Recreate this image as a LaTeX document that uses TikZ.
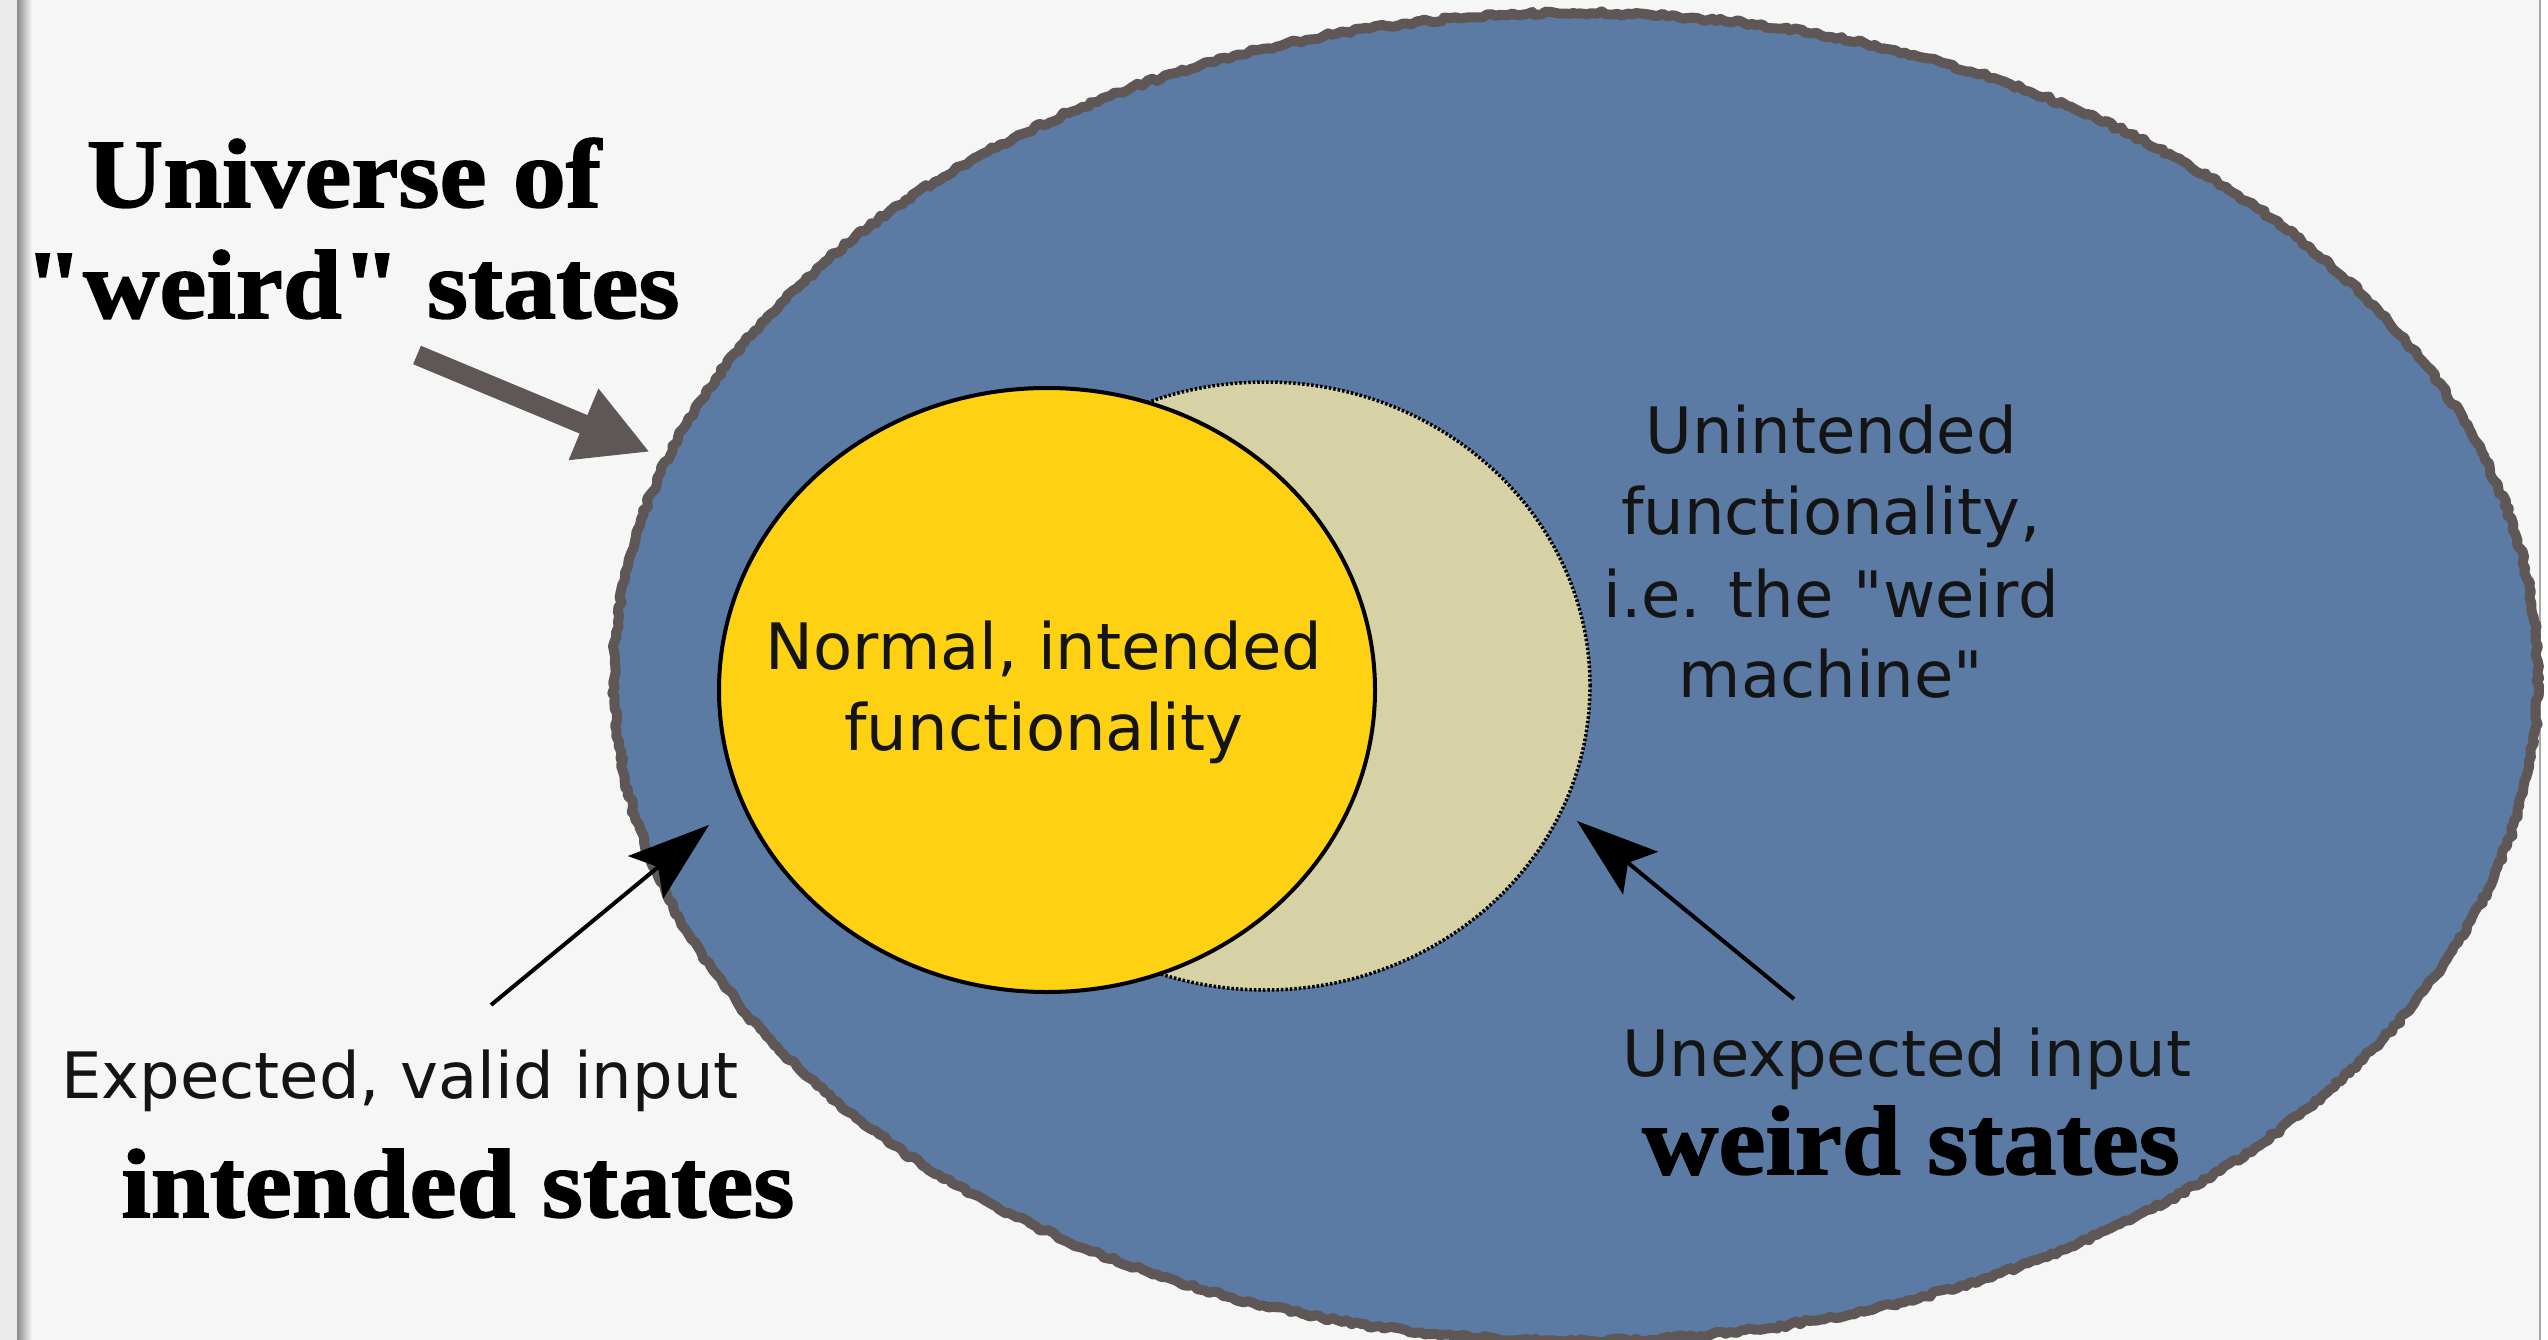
\documentclass[tikz,border=0pt]{standalone}
\usepackage{fontspec}
\usetikzlibrary{arrows.meta,decorations.pathmorphing,shapes.geometric}
\newfontfamily\labelsans{DejaVu Sans}
\newfontfamily\headserif{Liberation Serif}[FakeStretch=1.08,FakeBold=1.6]
\definecolor{paper}{HTML}{F6F6F6}
\definecolor{universe}{HTML}{5B7BA5}
\definecolor{rim}{HTML}{5E5756}
\definecolor{intended}{HTML}{FFD113}
\definecolor{weirdzone}{HTML}{D7D2A6}
\definecolor{ink}{HTML}{141414}
\tikzset{
  sanslabel/.style={anchor=base, text=ink, inner sep=0pt,
    font=\labelsans\fontsize{64pt}{81pt}\selectfont},
  headlabel/.style={anchor=base, text=black, inner sep=0pt,
    font=\headserif\bfseries\fontsize{98pt}{110pt}\selectfont},
  pointer/.style={draw=black, line width=4pt,
    -{Stealth[length=82pt,width=55pt,inset=16pt]}},
  bigpointer/.style={draw=rim, line width=20pt,
    -{Triangle[length=72pt,width=72pt]}},
  region/.style={ellipse, inner sep=0pt, outer sep=0pt},
}
\begin{document}
\begin{tikzpicture}[x=1pt,y=-1pt]
\useasboundingbox (0,0) rectangle (2548,1340);
% paper and its edges
\fill[paper] (0,0) rectangle (2548,1340);
\fill[black!8] (0,0) rectangle (17,1340);
\shade[left color=black!45, right color=paper] (17,0) rectangle (32,1340);
\fill[white] (2541,0) rectangle (2548,1340);
\draw[black!35, line width=2pt] (2540,0) -- (2540,1340);

% universe of states
\coordinate (uc) at (1576,677);
\fill[universe] (uc) ellipse [x radius=962pt, y radius=664pt];
\pgfmathsetseed{7}
\draw[rim, line width=10pt, line join=round, decorate,
      decoration={random steps, segment length=5pt, amplitude=2pt}]
  (uc) ellipse [x radius=962pt, y radius=664pt];

% unintended region and intended region
\node[region, fill=weirdzone, draw=black, line width=3.5pt,
      dash pattern=on 2.5pt off 2pt,
      minimum width=650pt, minimum height=608pt] (weird) at (1265,686) {};
\node[region, fill=intended, draw=black, line width=4pt,
      minimum width=656pt, minimum height=604pt] (normal) at (1047,690) {};

% inner labels
\node[sanslabel] (n1) at (1044,669) {Normal, intended};
\node[sanslabel] (n2) at (1044,750) {functionality};
\node[sanslabel] (w1) at (1831,453) {Unintended};
\node[sanslabel] (w2) at (1831,534) {functionality,};
\node[sanslabel] (w3) at (1831,617) {i.e. the "weird};
\node[sanslabel] (w4) at (1831,697) {machine"};

% input labels
\node[sanslabel] (valid) at (400,1098) {Expected, valid input};
\node[headlabel] (intst) at (458,1217) {intended states};
\node[sanslabel] (unexp) at (1907,1076) {Unexpected input};
\node[headlabel] (weirdst) at (1911,1174) {weird states};

% heading
\node[headlabel] (h1) at (344,207) {Universe of};
\node[headlabel] (h2) at (352,318) {"weird" states};

% pointers
\coordinate (validtail) at (491,1005);
\coordinate (validtip) at (709,825);
\draw[pointer] (validtail) -- (validtip);
\coordinate (oddtail) at (1794,999);
\coordinate (oddtip) at (1577,821);
\draw[pointer] (oddtail) -- (oddtip);
\coordinate (unitail) at (417,355);
\coordinate (unitip) at (650,452);
\draw[bigpointer] (unitail) -- (unitip);
\end{tikzpicture}
\end{document}
